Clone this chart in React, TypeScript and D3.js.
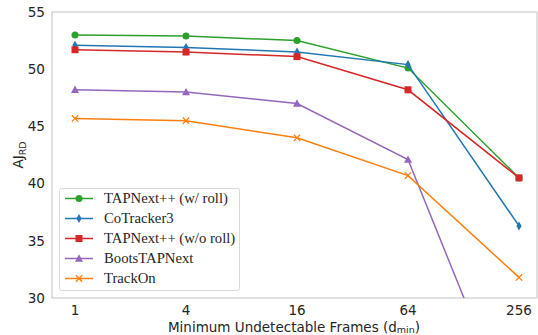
import React, { useRef, useEffect } from 'react';
import * as d3 from 'd3';

const frames = ['1', '4', '16', '64', '256'];
const yTicks = [30, 35, 40, 45, 50, 55];

const wRoll = [53.0, 52.9, 52.5, 50.1, 40.5];
const coTracker = [52.1, 51.9, 51.5, 50.4, 36.3];
const woRoll = [51.7, 51.5, 51.1, 48.2, 40.5];
const bootsTap = [48.2, 48.0, 47.0, 42.1, 18.1];
const trackOn = [45.7, 45.5, 44.0, 40.7, 31.8];

const series = [
    { name: 'TAPNext++ (w/ roll)', values: wRoll, color: '#2ca02c', marker: 'circle' },
    { name: 'CoTracker3', values: coTracker, color: '#1f77b4', marker: 'diamond' },
    { name: 'TAPNext++ (w/o roll)', values: woRoll, color: '#d62728', marker: 'square' },
    { name: 'BootsTAPNext', values: bootsTap, color: '#9467bd', marker: 'triangle' },
    { name: 'TrackOn', values: trackOn, color: '#ff7f0e', marker: 'x' },
];

const drawMarker = (g, type, color, x, y) => {
    if (type === 'circle') {
        g.append('circle').attr('cx', x).attr('cy', y).attr('r', 3.5).attr('fill', color);
    } else if (type === 'square') {
        g.append('rect').attr('x', x - 3.5).attr('y', y - 3.5).attr('width', 7).attr('height', 7).attr('fill', color);
    } else if (type === 'diamond') {
        g.append('path')
            .attr('d', `M${x},${y - 4.5}L${x + 2.6},${y}L${x},${y + 4.5}L${x - 2.6},${y}Z`)
            .attr('fill', color);
    } else if (type === 'triangle') {
        g.append('path')
            .attr('d', `M${x},${y - 4.2}L${x + 4},${y + 3.2}L${x - 4},${y + 3.2}Z`)
            .attr('fill', color);
    } else {
        g.append('path')
            .attr('d', `M${x - 3.2},${y - 3.2}L${x + 3.2},${y + 3.2}M${x - 3.2},${y + 3.2}L${x + 3.2},${y - 3.2}`)
            .attr('stroke', color).attr('stroke-width', 1.3).attr('fill', 'none');
    }
};

const Chart = () => {
    const svgRef = useRef();

    useEffect(() => {
        const svg = d3.select(svgRef.current);
        svg.selectAll('*').remove();

        const left = 52, right = 537, top = 12, bottom = 298;

        const x = d3.scalePoint().domain(frames).range([75, 519]);
        const y = d3.scaleLinear().domain([30, 55]).range([bottom, top]);

        svg.append('defs').append('clipPath').attr('id', 'plotclip')
            .append('rect').attr('x', left).attr('y', top).attr('width', right - left).attr('height', bottom - top);

        svg.append('rect')
            .attr('x', left).attr('y', top).attr('width', right - left).attr('height', bottom - top)
            .attr('fill', 'white').attr('stroke', '#cccccc').attr('stroke-width', 1.2);

        const tickFont = 'DejaVu Sans, sans-serif';
        svg.append('g').selectAll('text').data(yTicks).enter().append('text')
            .attr('x', 45).attr('y', d => y(d)).attr('dy', '0.36em')
            .attr('text-anchor', 'end').attr('font-family', tickFont).attr('font-size', 13.6)
            .attr('fill', '#262626').text(d => d);

        svg.append('g').selectAll('text').data(frames).enter().append('text')
            .attr('x', d => x(d)).attr('y', 315)
            .attr('text-anchor', 'middle').attr('font-family', tickFont).attr('font-size', 13.5)
            .attr('fill', '#262626').text(d => d);

        const xl = svg.append('text')
            .attr('x', 294).attr('y', 331.5).attr('text-anchor', 'middle')
            .attr('font-family', tickFont).attr('font-size', 13.5).attr('fill', '#262626');
        xl.append('tspan').text('Minimum Undetectable Frames (d');
        xl.append('tspan').attr('font-size', 9.5).attr('dy', 1.2).text('min');
        xl.append('tspan').attr('dy', -1.2).text(')');

        const yl = svg.append('text')
            .attr('transform', 'translate(23,155) rotate(-90)').attr('text-anchor', 'middle')
            .attr('font-family', tickFont).attr('font-size', 13.6).attr('fill', '#262626');
        yl.append('tspan').text('AJ');
        yl.append('tspan').attr('font-size', 9.5).attr('dy', 3).text('RD');

        const plot = svg.append('g').attr('clip-path', 'url(#plotclip)');
        const line = d3.line().x((d, i) => x(frames[i])).y(d => y(d));

        series.forEach(s => {
            plot.append('path').datum(s.values)
                .attr('d', line).attr('fill', 'none')
                .attr('stroke', s.color).attr('stroke-width', 1.5);
            s.values.forEach((v, i) => drawMarker(plot, s.marker, s.color, x(frames[i]), y(v)));
        });

        const lg = svg.append('g');
        lg.append('rect').attr('x', 59.5).attr('y', 188.5).attr('width', 180).attr('height', 102)
            .attr('rx', 2).attr('fill', 'white').attr('fill-opacity', 0.8)
            .attr('stroke', '#d9d9d9').attr('stroke-width', 1);
        series.forEach((s, i) => {
            const ly = 198.5 + i * 20;
            lg.append('line').attr('x1', 65).attr('x2', 93).attr('y1', ly).attr('y2', ly)
                .attr('stroke', s.color).attr('stroke-width', 1.5);
            drawMarker(lg, s.marker, s.color, 79, ly);
            lg.append('text').attr('x', 104).attr('y', ly).attr('dy', '0.33em')
                .attr('font-family', 'Liberation Serif, Times New Roman, serif').attr('font-size', 14.7)
                .attr('fill', '#262626').text(s.name);
        });
    }, []);

    return (
        <svg ref={svgRef} width={538} height={335}
            style={{ position: 'absolute', left: 0, top: 0, display: 'block' }}></svg>
    );
};

export default function App() {
    return (
        <>
            <style>{'html, body { margin: 0; padding: 0; overflow: hidden; }'}</style>
            <Chart />
        </>
    );
}
